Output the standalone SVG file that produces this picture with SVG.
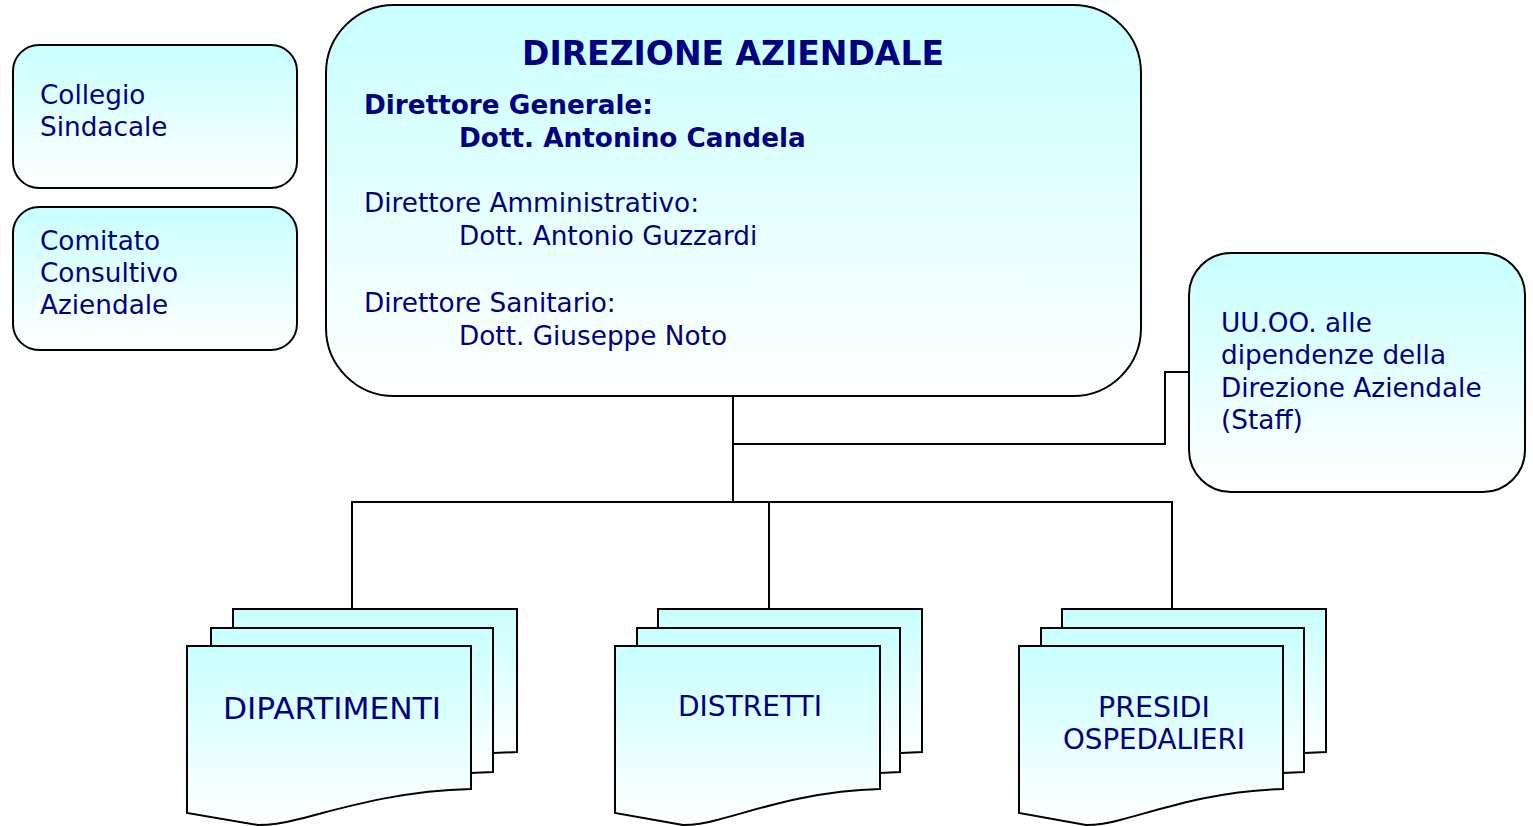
<svg xmlns="http://www.w3.org/2000/svg" width="1533" height="826" viewBox="0 0 1533 826">
<defs>
<linearGradient id="g" x1="0" y1="0" x2="0" y2="1">
<stop offset="0" stop-color="#c8ffff"/>
<stop offset="1" stop-color="#ffffff"/>
</linearGradient>
</defs>
<style>
.box{fill:url(#g);stroke:#000;stroke-width:2}
.ln{fill:none;stroke:#000;stroke-width:2}
text{font-family:"DejaVu Sans","Verdana",sans-serif;fill:#000080;font-size:26.3px}
.b{font-weight:bold}
.c{text-anchor:middle}
</style>
<rect width="1533" height="826" fill="#fff"/>
<g id="connectors">
<path class="ln" d="M733,396 V502"/>
<path class="ln" d="M733,444 H1165 V372 H1189"/>
<path class="ln" d="M352,609 V502 H1172 V609"/>
<path class="ln" d="M769,502 V609"/>
</g>
<g id="collegio">
<rect class="box" x="13" y="45" width="284" height="143" rx="26"/>
<text x="40" y="104">Collegio</text>
<text x="40" y="136">Sindacale</text>
</g>
<g id="comitato">
<rect class="box" x="13" y="207" width="284" height="143" rx="26"/>
<text x="40" y="250">Comitato</text>
<text x="40" y="282">Consultivo</text>
<text x="40" y="314">Aziendale</text>
</g>
<g id="direzione">
<rect class="box" x="326" y="5" width="815" height="391" rx="68"/>
<text class="b c" x="733" y="65" style="font-size:33px">DIREZIONE AZIENDALE</text>
<text class="b" x="364" y="114">Direttore Generale:</text>
<text class="b" x="459" y="147">Dott. Antonino Candela</text>
<text x="364" y="212">Direttore Amministrativo:</text>
<text x="459" y="245">Dott. Antonio Guzzardi</text>
<text x="364" y="312">Direttore Sanitario:</text>
<text x="459" y="345">Dott. Giuseppe Noto</text>
</g>
<g id="staff">
<rect class="box" x="1189" y="253" width="336" height="239" rx="42"/>
<text x="1221" y="332">UU.OO. alle</text>
<text x="1221" y="364">dipendenze della</text>
<text x="1221" y="397">Direzione Aziendale</text>
<text x="1221" y="429">(Staff)</text>
</g>
<g id="dipartimenti">
<path class="box" d="M233,609 H517 V752 L471,754 V646 H233 Z"/>
<path class="box" d="M211,628 H493 V772 L471,773 V646 H211 Z"/>
<path class="box" d="M187,646 H471 V789 C390,791 330,812 295,820 C280,824 268,825 258,825 L187,813 Z"/>
<text class="c" x="332" y="719" style="font-size:30px" textLength="218" lengthAdjust="spacingAndGlyphs">DIPARTIMENTI</text>
</g>
<g id="distretti">
<path class="box" d="M658,609 H922 V752 L880,754 V646 H658 Z"/>
<path class="box" d="M637,628 H900 V772 L880,773 V646 H637 Z"/>
<path class="box" d="M615,646 H880 V789 C805,791 750,812 717,820 C703,824 692,825 683,825 L615,813 Z"/>
<text class="c" x="750" y="716" style="font-size:28.5px" textLength="144" lengthAdjust="spacingAndGlyphs">DISTRETTI</text>
</g>
<g id="presidi">
<path class="box" d="M1062,609 H1326 V752 L1283,754 V646 H1062 Z"/>
<path class="box" d="M1041,628 H1304 V772 L1283,773 V646 H1041 Z"/>
<path class="box" d="M1019,646 H1283 V789 C1208,791 1153,812 1120,820 C1106,824 1095,825 1086,825 L1019,813 Z"/>
<text class="c" x="1154" y="717" style="font-size:28.5px" textLength="112" lengthAdjust="spacingAndGlyphs">PRESIDI</text>
<text class="c" x="1154" y="749" style="font-size:28.5px" textLength="182" lengthAdjust="spacingAndGlyphs">OSPEDALIERI</text>
</g>
</svg>
